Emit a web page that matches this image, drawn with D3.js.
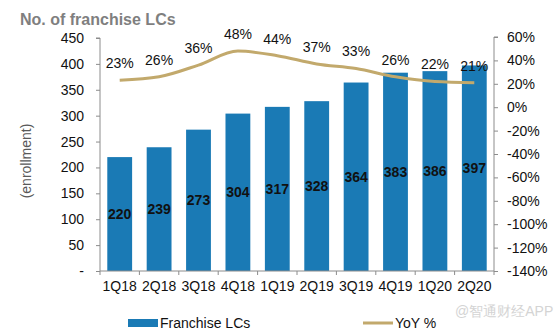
<!DOCTYPE html>
<html>
  <head>
    <meta charset="utf-8">
    <title>Franchise LCs</title>
    <script src="https://d3js.org/d3.v7.min.js"></script>
    <style>
      body { margin: 0; background: #fff; }
      text { font-family: "Liberation Sans", Arial, sans-serif; }
    </style>
  </head>
<body>
<script>
var quarters = ["1Q18", "2Q18", "3Q18", "4Q18", "1Q19", "2Q19", "3Q19", "4Q19", "1Q20", "2Q20"];
var franchiseLCs = [220, 239, 273, 304, 317, 328, 364, 383, 386, 397];
var yoy = [23, 26, 36, 48, 44, 37, 33, 26, 22, 21];
var leftTicks = [0, 50, 100, 150, 200, 250, 300, 350, 400, 450];
var rightTicks = [60, 40, 20, 0, -20, -40, -60, -80, -100, -120, -140];

var barColor = "#1a7ab5", lineColor = "#c2a96c", axisColor = "#8c8c8c";

var svg = d3.select("body").append("svg")
    .attr("width", 554)
    .attr("height", 332);

var x = d3.scaleBand().domain(quarters).range([100, 494]).paddingInner(0.37).paddingOuter(0.185);
var y = d3.scaleLinear().domain([0, 450]).range([271, 38]);
var y2 = d3.scaleLinear().domain([-140, 60]).range([271, 37]);

// title
svg.append("text")
    .attr("x", 20).attr("y", 25)
    .attr("font-size", 16).attr("font-weight", "bold")
    .attr("fill", "#7f7f7f")
    .text("No. of franchise LCs");

svg.append("text")
    .attr("transform", "translate(31,161) rotate(-90)")
    .attr("text-anchor", "middle")
    .attr("font-size", 14).attr("fill", "#595959")
    .text("(enrollment)");

// bars
svg.selectAll(".bar")
    .data(franchiseLCs)
    .join("rect")
    .attr("class", "bar")
    .attr("x", (d, i) => x(quarters[i]))
    .attr("width", x.bandwidth())
    .attr("y", d => y(d))
    .attr("height", d => y(0) - y(d))
    .attr("fill", barColor);

svg.selectAll(".barlabel")
    .data(franchiseLCs)
    .join("text")
    .attr("class", "barlabel")
    .attr("x", (d, i) => x(quarters[i]) + x.bandwidth() / 2)
    .attr("y", d => (y(d) + y(0)) / 2)
    .attr("dy", "0.35em")
    .attr("text-anchor", "middle")
    .attr("font-size", 14).attr("font-weight", "bold")
    .attr("fill", "#111")
    .text(d => d);

// axes
var leftAxis = svg.append("g")
    .attr("transform", "translate(100,0)")
    .call(d3.axisLeft(y).tickValues(leftTicks).tickSize(4).tickPadding(12)
        .tickFormat(d => d === 0 ? "-" : d));

var rightAxis = svg.append("g")
    .attr("transform", "translate(494,0)")
    .call(d3.axisRight(y2).tickValues(rightTicks).tickSize(4).tickPadding(9)
        .tickFormat(d => d + "%"));

var bottomAxis = svg.append("g")
    .attr("transform", "translate(0,271)")
    .call(d3.axisBottom(x).tickSize(0).tickPadding(10));

// tick marks between categories on the bottom axis
var bounds = quarters.map(q => x(q) - x.step() * x.paddingInner() / 2);
bounds[0] = 100;
bounds.push(494);
svg.selectAll(".xtick")
    .data(bounds)
    .join("line")
    .attr("class", "xtick")
    .attr("x1", d => d).attr("x2", d => d)
    .attr("y1", 271).attr("y2", 275)
    .attr("stroke", axisColor);

[leftAxis, rightAxis, bottomAxis].forEach(g => {
    g.select(".domain").attr("stroke", axisColor);
    g.selectAll(".tick line").attr("stroke", axisColor);
    g.selectAll("text").attr("font-size", 14).attr("fill", "#111")
        .attr("font-family", "Liberation Sans, Arial, sans-serif");
});
leftAxis.select(".domain").attr("d", "M-4,38H0V271");
rightAxis.select(".domain").attr("d", "M4,37H0V271");
bottomAxis.select(".domain").attr("d", "M100,0H494");

// YoY line
var line = d3.line()
    .x((d, i) => x(quarters[i]) + x.bandwidth() / 2)
    .y(d => y2(d))
    .curve(d3.curveMonotoneX);

svg.append("path")
    .datum(yoy)
    .attr("d", line)
    .attr("fill", "none")
    .attr("stroke", lineColor)
    .attr("stroke-width", 3);

svg.selectAll(".yoylabel")
    .data(yoy)
    .join("text")
    .attr("class", "yoylabel")
    .attr("x", (d, i) => x(quarters[i]) + x.bandwidth() / 2)
    .attr("y", d => y2(d) - 17)
    .attr("dy", "0.35em")
    .attr("text-anchor", "middle")
    .attr("font-size", 14)
    .attr("fill", "#111")
    .text(d => d + "%");

// legend
svg.append("rect")
    .attr("x", 128).attr("y", 319).attr("width", 30).attr("height", 8)
    .attr("fill", barColor);
svg.append("text")
    .attr("x", 160).attr("y", 323).attr("dy", "0.35em")
    .attr("font-size", 14).attr("fill", "#111")
    .text("Franchise LCs");
svg.append("line")
    .attr("x1", 363).attr("x2", 393).attr("y1", 323).attr("y2", 323)
    .attr("stroke", lineColor).attr("stroke-width", 3);
svg.append("text")
    .attr("x", 395).attr("y", 323).attr("dy", "0.35em")
    .attr("font-size", 14).attr("fill", "#111")
    .text("YoY %");

// watermark
svg.append("text")
    .attr("x", 455).attr("y", 311).attr("dy", "0.35em")
    .attr("font-size", 14).attr("fill", "#d4d4d4")
    .attr("font-family", "Noto Sans CJK SC, sans-serif")
    .text("@智通财经APP");
</script>
</body>
</html>
